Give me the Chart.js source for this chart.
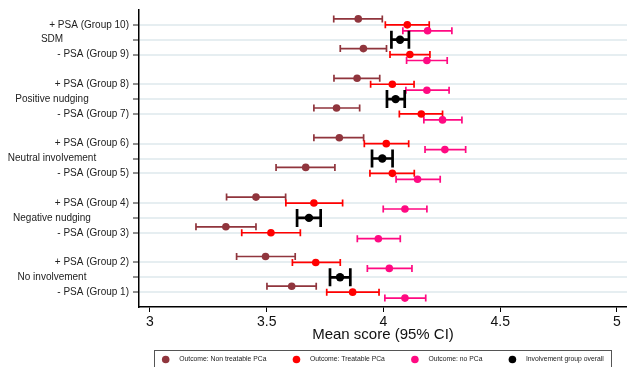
<!DOCTYPE html>
<html><head><meta charset="utf-8">
<style>html,body{margin:0;padding:0;background:#fff;overflow:hidden;} #wrap{width:627px;height:367px;position:relative;} canvas{display:block;}</style>
<script src="https://cdn.jsdelivr.net/npm/chart.js@4.4.1/dist/chart.umd.min.js"></script>
</head><body><div id="wrap"><canvas id="c" width="627" height="367"></canvas></div>
<script>
// ---- data ----
const groupLabels = ['No involvement', 'Negative nudging', 'Neutral involvement', 'Positive nudging', 'SDM'];
const subgroupLabels = ['- PSA (Group 1)', '+ PSA (Group 2)', '- PSA (Group 3)', '+ PSA (Group 4)', '- PSA (Group 5)',
  '+ PSA (Group 6)', '- PSA (Group 7)', '+ PSA (Group 8)', '- PSA (Group 9)', '+ PSA (Group 10)'];
const xTicks = [3, 3.5, 4, 4.5, 5];
const seriesNames = ['Outcome: Non treatable PCa', 'Outcome: Treatable PCa', 'Outcome: no PCa', 'Involvement group overall'];

const nonTreatMean = [3.607, 3.495, 3.325, 3.454, 3.667, 3.811, 3.799, 3.887, 3.914, 3.892];
const nonTreatLow  = [3.501, 3.371, 3.197, 3.328, 3.540, 3.702, 3.702, 3.788, 3.815, 3.787];
const nonTreatHigh = [3.712, 3.622, 3.454, 3.581, 3.792, 3.915, 3.898, 3.984, 4.013, 3.995];

const treatMean = [3.868, 3.710, 3.518, 3.702, 4.038, 4.012, 4.162, 4.038, 4.113, 4.102];
const treatLow  = [3.757, 3.610, 3.393, 3.582, 3.942, 3.918, 4.068, 3.945, 4.028, 4.008];
const treatHigh = [3.981, 3.815, 3.644, 3.825, 4.132, 4.108, 4.253, 4.131, 4.199, 4.196];

const noPcaMean = [4.092, 4.025, 3.978, 4.092, 4.146, 4.263, 4.253, 4.186, 4.186, 4.189];
const noPcaLow  = [4.006, 3.931, 3.888, 3.999, 4.054, 4.178, 4.173, 4.096, 4.099, 4.083];
const noPcaHigh = [4.181, 4.122, 4.072, 4.186, 4.243, 4.352, 4.336, 4.281, 4.273, 4.293];

const overallMean = [3.814, 3.681, 3.995, 4.052, 4.071];
const overallLow  = [3.771, 3.630, 3.951, 4.015, 4.034];
const overallHigh = [3.858, 3.731, 4.039, 4.091, 4.109];

// ---- style ----
const colors = ['#90353d', '#ff0000', '#ff0a82', '#000000'];
const FONT = '"Liberation Sans", Arial, sans-serif';

// row positions (category index -> axis value)
function subY(i) { return 1 + 4 * Math.floor(i / 2) + (i % 2 ? 2 : 0); }
function grpY(g) { return 2 + 4 * g; }
function mk(mean, lo, hi, yf, off) {
  return mean.map((m, i) => ({ x: m, y: yf(i) + off, xMin: lo[i], xMax: hi[i] }));
}

const tickVals = [];
subgroupLabels.forEach((_, i) => tickVals.push(subY(i)));
groupLabels.forEach((_, g) => tickVals.push(grpY(g)));
tickVals.sort((a, b) => a - b);
const labelAt = {};
subgroupLabels.forEach((l, i) => { labelAt[subY(i)] = l; });

const datasets = [
  { label: seriesNames[0], data: mk(nonTreatMean, nonTreatLow, nonTreatHigh, subY, 0.4), backgroundColor: colors[0], pointRadius: 3.8, capHalf: 3.5, barWidth: 1.7 },
  { label: seriesNames[1], data: mk(treatMean, treatLow, treatHigh, subY, 0), backgroundColor: colors[1], pointRadius: 3.8, capHalf: 3.5, barWidth: 1.7 },
  { label: seriesNames[2], data: mk(noPcaMean, noPcaLow, noPcaHigh, subY, -0.4), backgroundColor: colors[2], pointRadius: 3.8, capHalf: 3.5, barWidth: 1.7 },
  { label: seriesNames[3], data: mk(overallMean, overallLow, overallHigh, grpY, 0), backgroundColor: colors[3], pointRadius: 4.2, capHalf: 9, barWidth: 2.7 }
];
datasets.forEach((d, i) => { d.borderWidth = 0; d.borderColor = colors[i]; d.pointHoverRadius = d.pointRadius; });

const errorBars = {
  id: 'errorBars',
  beforeDatasetsDraw(chart) {
    const ctx = chart.ctx, xs = chart.scales.x, ys = chart.scales.y;
    ctx.save();
    chart.data.datasets.forEach((ds, di) => {
      ctx.strokeStyle = colors[di];
      ctx.lineWidth = ds.barWidth;
      ds.data.forEach(p => {
        const y = ys.getPixelForValue(p.y);
        const x0 = xs.getPixelForValue(p.xMin), x1 = xs.getPixelForValue(p.xMax);
        ctx.beginPath();
        ctx.moveTo(x0, y); ctx.lineTo(x1, y);
        ctx.moveTo(x0, y - ds.capHalf); ctx.lineTo(x0, y + ds.capHalf);
        ctx.moveTo(x1, y - ds.capHalf); ctx.lineTo(x1, y + ds.capHalf);
        ctx.stroke();
      });
    });
    ctx.restore();
  }
};

const extras = {
  id: 'extras',
  afterDraw(chart) {
    const ctx = chart.ctx, ys = chart.scales.y, area = chart.chartArea;
    ctx.save();
    // group labels
    ctx.font = '10px ' + FONT;
    ctx.fillStyle = '#222';
    ctx.textAlign = 'center';
    ctx.textBaseline = 'middle';
    groupLabels.forEach((l, g) => ctx.fillText(l, 52, ys.getPixelForValue(grpY(g))));
    // axis title
    ctx.font = '15px ' + FONT;
    ctx.fillStyle = '#111';
    ctx.fillText('Mean score (95% CI)', (area.left + area.right) / 2, 335);
    // legend
    ctx.strokeStyle = '#555';
    ctx.lineWidth = 1;
    ctx.strokeRect(154.5, 350.5, 457, 24);
    ctx.font = '6.8px ' + FONT;
    ctx.textAlign = 'left';
    let x = 165.7;
    const ly = 359.5;
    seriesNames.forEach((n, i) => {
      ctx.fillStyle = colors[i];
      ctx.beginPath(); ctx.arc(x, ly, 3.8, 0, Math.PI * 2); ctx.fill();
      ctx.fillStyle = '#222';
      ctx.fillText(n, x + 13.5, ly);
      x += 13.5 + ctx.measureText(n).width + 30;
    });
    ctx.restore();
  }
};

const noPad = () => ({ left: 0, top: 0, right: 0, bottom: 0 });

new Chart(document.getElementById('c'), {
  type: 'scatter',
  data: { datasets },
  plugins: [errorBars, extras],
  options: {
    responsive: false, animation: false, devicePixelRatio: 1,
    layout: { autoPadding: false, padding: { top: 10, left: 0, right: 0, bottom: 0 } },
    plugins: { legend: { display: false }, tooltip: { enabled: false } },
    scales: {
      x: {
        type: 'linear', min: 2.953, max: 5.043,
        afterBuildTicks: s => { s.ticks = xTicks.map(v => ({ value: v })); },
        afterFit: s => { s.height = 60; s.paddingLeft = 0; s.paddingRight = 0; s.getPadding = noPad; },
        ticks: { font: { family: FONT, size: 14 }, color: '#111', padding: 2, maxRotation: 0, autoSkip: false, callback: v => String(v) },
        grid: { drawOnChartArea: false, drawTicks: true, tickLength: 5, tickColor: '#000', tickWidth: 1 },
        border: { display: true, color: '#000', width: 1.5 }
      },
      y: {
        type: 'linear', min: 0, max: 20,
        afterBuildTicks: s => { s.ticks = tickVals.map(v => ({ value: v })); },
        afterFit: s => { s.width = 139; s.paddingTop = 0; s.paddingBottom = 0; s.getPadding = noPad; },
        ticks: { font: { family: FONT, size: 10 }, color: '#222', padding: 4, autoSkip: false, callback: v => labelAt[v] || '' },
        grid: { color: '#e6eef1', lineWidth: 2, drawTicks: true, tickLength: 6, tickColor: '#222', tickWidth: 1 },
        border: { display: true, color: '#000', width: 1.5 }
      }
    }
  }
});
</script></body></html>
